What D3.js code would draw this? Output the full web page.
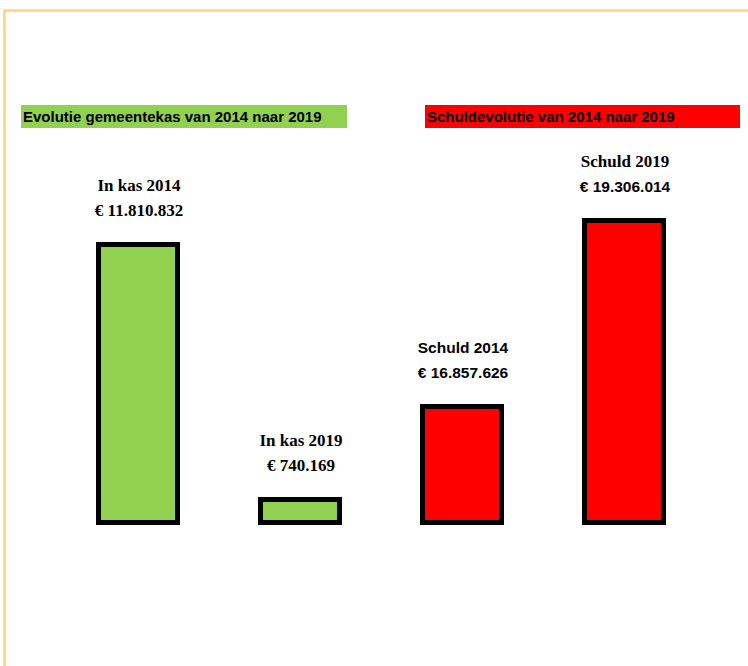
<!DOCTYPE html>
<html>
<head>
<meta charset="utf-8">
<script src="https://cdn.jsdelivr.net/npm/d3@7"></script>
<style>
  body { margin: 0; background: #fff; }
</style>
</head>
<body>
<div id="chart"></div>
<script>
// bar data (heights are relative, as drawn in the original picture)
const categories = ["kas2014", "kas2019", "schuld2014", "schuld2019"];
const barSize = [283, 28, 121, 307];
const labelTop = ["In kas 2014", "In kas 2019", "Schuld 2014", "Schuld 2019"];
const labelBottom = ["€ 11.810.832", "€ 740.169", "€ 16.857.626", "€ 19.306.014"];
const barColors = ["#92D050", "#92D050", "#FF0000", "#FF0000"];
// font per label line (original mixes serif and sans)
const topFont = ["serif", "serif", "sans", "serif"];
const bottomFont = ["serif", "serif", "sans", "sans"];

const titles = ["Evolutie gemeentekas van 2014 naar 2019", "Schuldevolutie van 2014 naar 2019"];
const titleColors = ["#92D050", "#FF0000"];

const width = 748, height = 666;
const baseline = 525;

const svg = d3.select("#chart").append("svg")
    .attr("width", width)
    .attr("height", height);

// orange frame
svg.append("path")
    .attr("d", `M4.5,${height} L4.5,10.5 L${width},10.5`)
    .attr("fill", "none")
    .attr("stroke", "#FFD27F")
    .attr("stroke-width", 2.5);

// title boxes
const titleBoxes = [{x: 21, w: 326}, {x: 425, w: 315}];
titles.forEach((t, i) => {
    svg.append("rect")
        .attr("x", titleBoxes[i].x)
        .attr("y", 105)
        .attr("width", titleBoxes[i].w)
        .attr("height", 23)
        .attr("fill", titleColors[i]);
    svg.append("text")
        .attr("x", titleBoxes[i].x + 2)
        .attr("y", 122)
        .style("font-family", "'Liberation Sans', Arial, sans-serif")
        .style("font-weight", "bold")
        .style("font-size", "15px")
        .attr("fill", "#000")
        .text(t);
});

// scales
const x = d3.scalePoint()
    .domain(categories)
    .range([138, 624]);

const y = d3.scaleLinear()
    .domain([0, d3.max(barSize)])
    .range([baseline, baseline - d3.max(barSize)]);

const barW = 84, sw = 5;

const data = categories.map((c, i) => ({
    cat: c, size: barSize[i], top: labelTop[i], bottom: labelBottom[i],
    color: barColors[i], topFont: topFont[i], bottomFont: bottomFont[i]
}));

// bars
svg.selectAll(".bar")
    .data(data)
    .enter().append("rect")
    .attr("class", "bar")
    .attr("x", d => x(d.cat) - barW / 2 + sw / 2)
    .attr("y", d => y(d.size) + sw / 2)
    .attr("width", barW - sw)
    .attr("height", d => y(0) - y(d.size) - sw)
    .attr("fill", d => d.color)
    .attr("stroke", "#000")
    .attr("stroke-width", sw);

const fontFam = f => f === "serif"
    ? "'Liberation Serif', 'Times New Roman', serif"
    : "'Liberation Sans', Arial, sans-serif";

// labels
svg.selectAll(".lbl-top")
    .data(data)
    .enter().append("text")
    .attr("class", "lbl-top")
    .attr("x", d => x(d.cat) + 1)
    .attr("y", d => y(d.size) - 51)
    .attr("text-anchor", "middle")
    .style("font-family", d => fontFam(d.topFont))
    .style("font-size", d => d.topFont === "serif" ? "17px" : "15.5px")
    .style("font-weight", "bold")
    .text(d => d.top);

svg.selectAll(".lbl-bottom")
    .data(data)
    .enter().append("text")
    .attr("class", "lbl-bottom")
    .attr("x", d => x(d.cat) + 1)
    .attr("y", d => y(d.size) - 26)
    .attr("text-anchor", "middle")
    .style("font-family", d => fontFam(d.bottomFont))
    .style("font-size", d => d.bottomFont === "serif" ? "17px" : "15.5px")
    .style("font-weight", "bold")
    .text(d => d.bottom);
</script>
</body>
</html>
